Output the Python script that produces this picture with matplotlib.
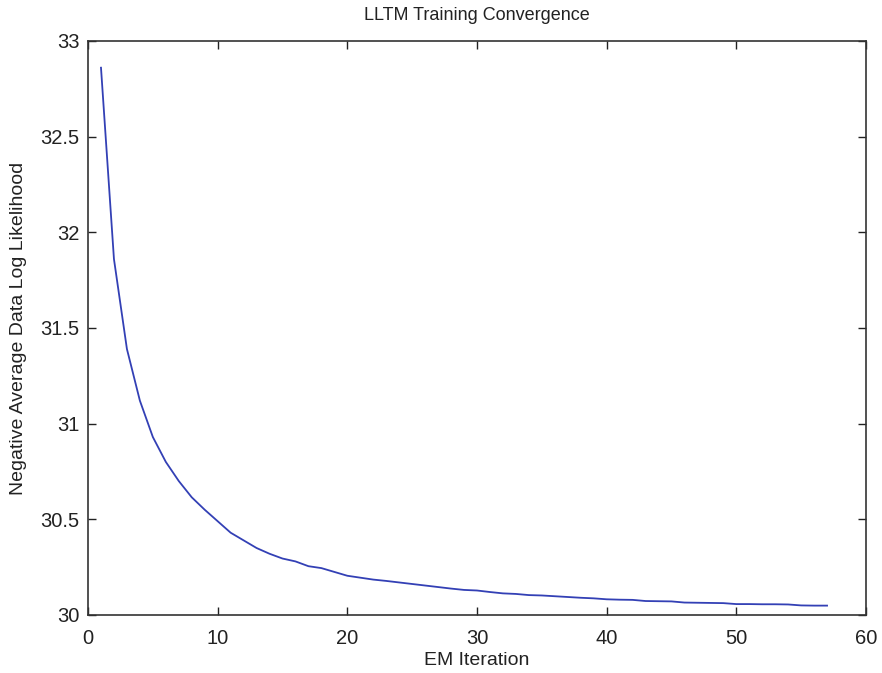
import matplotlib
matplotlib.use('Agg')
import matplotlib.pyplot as plt

# EM iterations and negative average data log likelihood
iterations = list(range(1, 58))
neg_loglik = [
    32.86, 31.86, 31.39, 31.12, 30.93, 30.80, 30.70, 30.615, 30.55, 30.49,
    30.43, 30.39, 30.35, 30.32, 30.295, 30.28, 30.255, 30.245, 30.225, 30.205,
    30.195, 30.185, 30.178, 30.17, 30.162, 30.154, 30.146, 30.138, 30.131, 30.128,
    30.12, 30.113, 30.11, 30.104, 30.102, 30.098, 30.094, 30.09, 30.087, 30.082,
    30.08, 30.079, 30.073, 30.072, 30.071, 30.065, 30.064, 30.063, 30.062, 30.057,
    30.057, 30.056, 30.056, 30.055, 30.05, 30.049, 30.049,
]

x_ticks = [0, 10, 20, 30, 40, 50, 60]
y_ticks = [30, 30.5, 31, 31.5, 32, 32.5, 33]
y_labels = ['30', '30.5', '31', '31.5', '32', '32.5', '33']

plt.rcParams['font.family'] = ['Liberation Sans', 'DejaVu Sans']

fig = plt.figure(figsize=(8.82, 6.73), dpi=100)
ax = fig.add_axes([0.0998, 0.0862, 0.882, 0.853])

ax.plot(iterations, neg_loglik, color='#3340b5', linewidth=1.3)

ax.set_xlim(0, 60)
ax.set_ylim(30, 33)
ax.set_xticks(x_ticks)
ax.set_yticks(y_ticks)
ax.set_yticklabels(y_labels)
ax.tick_params(direction='in', top=True, right=True, length=6, width=1.0,
               labelsize=14.5, colors='#222222')
ax.tick_params(axis='x', pad=10)
ax.tick_params(axis='y', pad=6)
for spine in ax.spines.values():
    spine.set_linewidth(1.2)
    spine.set_color('#333333')

ax.set_title('LLTM Training Convergence', fontsize=13, color='#222222', pad=15)
ax.set_xlabel('EM Iteration', fontsize=14, color='#222222', labelpad=3)
ax.set_ylabel('Negative Average Data Log Likelihood', fontsize=14,
              color='#222222', labelpad=10)

fig.savefig('out.png', dpi=100)
